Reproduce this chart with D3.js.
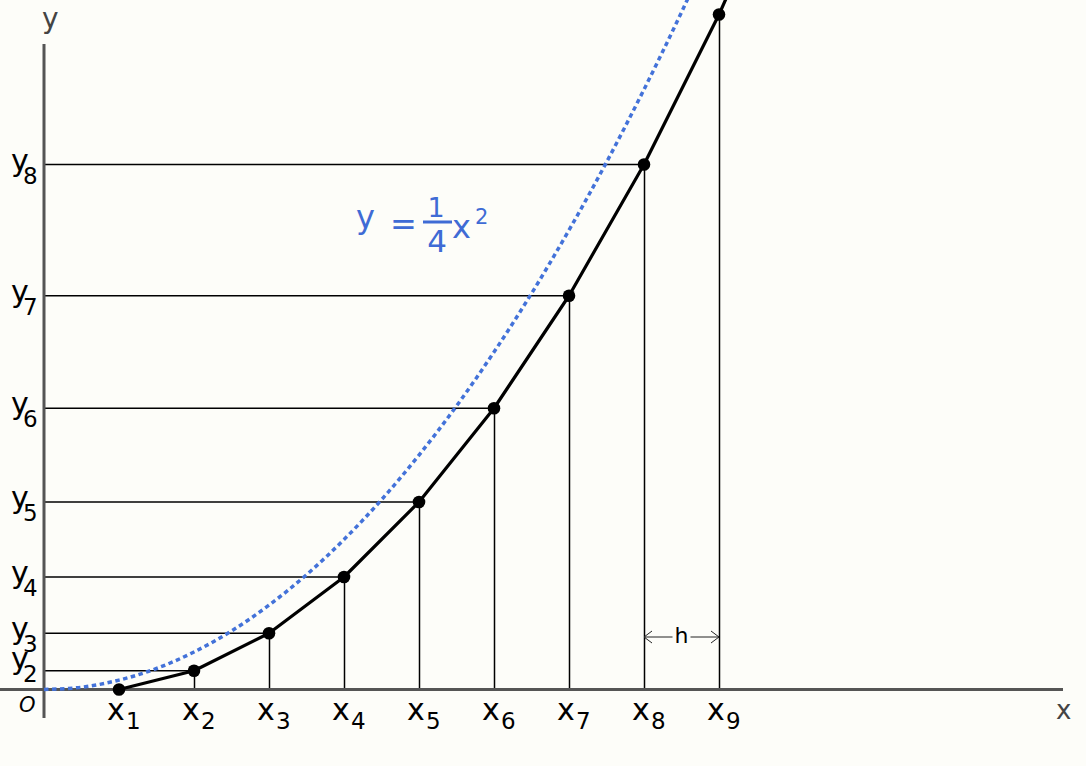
<html>
<head>
  <style>
  body {
    margin: 0;
    background: #fdfdf9;
  }
  svg text {
    font-family: "DejaVu Sans", Verdana, sans-serif;
  }
  .guide {
    stroke: #000;
    stroke-width: 1.5px;
  }
  .axis-line {
    stroke: #555;
    stroke-width: 3px;
  }
  </style>
</head>
<body>
<div id="chart"></div>
<script src="https://cdnjs.cloudflare.com/ajax/libs/d3/7.8.5/d3.min.js"></script>
<script>

// Euler steps: x_n and y_n (units of h)
var nodeX = [1, 2, 3, 4, 5, 6, 7, 8, 9];
var nodeY = [0, 0.5, 1.5, 3, 5, 7.5, 10.5, 14, 18];
// next step, off the top of the picture
var tailX = 10, tailY = 22.5;

// dashed curve y = x^2/4
var curveX = [0, 0.5, 1, 1.5, 2, 2.5, 3, 3.5, 4, 4.5, 5, 5.5, 6, 6.5, 7, 7.5, 8, 8.5, 9];
var curveY = [0, 0.06, 0.25, 0.56, 1, 1.56, 2.25, 3.06, 4, 5.06, 6.25, 7.56, 9, 10.56, 12.25, 14.06, 16, 18.06, 20.25];

// which y_n get a label and a horizontal guide
var yLabelIdx = [2, 3, 4, 5, 6, 7, 8];

var width = 1086, height = 766;

var svg = d3.select("#chart")
  .append("svg")
    .attr("width", width)
    .attr("height", height);

// 75px per h along x, 37.5px per unit along y
var x = d3.scaleLinear().domain([0, 1]).range([44, 119]);
var y = d3.scaleLinear().domain([0, 1]).range([689.5, 652]);

// guides
nodeX.forEach(function(d, i) {
  if (i === 0) return;
  svg.append("line").attr("class", "guide")
    .attr("x1", x(d) + 0.5).attr("x2", x(d) + 0.5)
    .attr("y1", y(nodeY[i])).attr("y2", y(0));
});
yLabelIdx.forEach(function(n) {
  svg.append("line").attr("class", "guide")
    .attr("x1", x(0)).attr("x2", x(nodeX[n - 1]))
    .attr("y1", y(nodeY[n - 1])).attr("y2", y(nodeY[n - 1]));
});

// axes
svg.append("line").attr("class", "axis-line")
  .attr("x1", 0).attr("x2", 1063)
  .attr("y1", y(0)).attr("y2", y(0));
svg.append("line").attr("class", "axis-line")
  .attr("x1", x(0)).attr("x2", x(0))
  .attr("y1", 44).attr("y2", 718);

// dashed parabola
var curvePts = curveX.map(function(d, i) { return [d, curveY[i]]; });
svg.append("path")
  .datum(curvePts)
  .attr("fill", "none")
  .attr("stroke", "#4372d9")
  .attr("stroke-width", 3.5)
  .attr("stroke-dasharray", "4.5,3.5")
  .attr("d", d3.line()
    .x(function(d) { return x(d[0]); })
    .y(function(d) { return y(d[1]); })
    .curve(d3.curveMonotoneX));

// euler polyline
var polyPts = nodeX.map(function(d, i) { return [d, nodeY[i]]; });
polyPts.push([tailX, tailY]);
svg.append("path")
  .datum(polyPts)
  .attr("fill", "none")
  .attr("stroke", "#000")
  .attr("stroke-width", 3.2)
  .attr("stroke-linejoin", "round")
  .attr("d", d3.line()
    .x(function(d) { return x(d[0]); })
    .y(function(d) { return y(d[1]); }));

svg.selectAll(".node")
  .data(polyPts.slice(0, nodeX.length))
  .enter()
  .append("circle")
    .attr("class", "node")
    .attr("cx", function(d) { return x(d[0]); })
    .attr("cy", function(d) { return y(d[1]); })
    .attr("r", 6.3)
    .attr("fill", "#000");

// x_n labels
nodeX.forEach(function(d, i) {
  var t = svg.append("text")
    .attr("x", x(d) - 12).attr("y", 720)
    .style("font-size", "30px");
  t.append("tspan").text("x");
  t.append("tspan")
    .attr("x", x(d) + 7).attr("dy", 9)
    .style("font-size", "23px")
    .text(i + 1);
});

// y_n labels
yLabelIdx.forEach(function(n) {
  var ly = y(nodeY[n - 1]);
  var shift = Math.min(0, 682 - (ly + 19));
  var t = svg.append("text")
    .attr("x", 11).attr("y", ly + 6 + shift)
    .style("font-size", "30px");
  t.append("tspan").text("y");
  t.append("tspan")
    .attr("x", 23).attr("dy", 13)
    .style("font-size", "23px")
    .text(n);
});

// axis names and origin
svg.append("text")
  .attr("x", 42).attr("y", 28)
  .style("font-size", "28px").style("fill", "#444")
  .text("y");
svg.append("text")
  .attr("x", 1056).attr("y", 719)
  .style("font-size", "26px").style("fill", "#444")
  .text("x");
svg.append("text")
  .attr("x", 19).attr("y", 712)
  .style("font-size", "21px").style("font-style", "italic")
  .text("O");

// step width h between x_8 and x_9
var hy = 637, hx1 = x(nodeX[7]), hx2 = x(nodeX[8]), hm = (hx1 + hx2) / 2;
var arrow = svg.append("g")
  .attr("fill", "none")
  .attr("stroke", "#222")
  .attr("stroke-width", 1);
arrow.append("line").attr("x1", hx1).attr("x2", hm - 9).attr("y1", hy).attr("y2", hy);
arrow.append("line").attr("x1", hm + 9).attr("x2", hx2).attr("y1", hy).attr("y2", hy);
arrow.append("path").attr("d", "M" + (hx1 + 8) + "," + (hy - 6) + "L" + hx1 + "," + hy + "L" + (hx1 + 8) + "," + (hy + 6));
arrow.append("path").attr("d", "M" + (hx2 - 8) + "," + (hy - 6) + "L" + hx2 + "," + hy + "L" + (hx2 - 8) + "," + (hy + 6));
svg.append("text")
  .attr("x", hm).attr("y", 643)
  .attr("text-anchor", "middle")
  .style("font-size", "22px")
  .text("h");

// equation label
var eq = svg.append("g").style("fill", "#3f6bd5");
eq.append("text").attr("x", 356).attr("y", 228).style("font-size", "32px").text("y");
eq.append("text").attr("x", 390).attr("y", 235).style("font-size", "32px").text("=");
eq.append("line")
  .attr("x1", 423).attr("x2", 452).attr("y1", 222).attr("y2", 222)
  .attr("stroke", "#3f6bd5").attr("stroke-width", 3);
eq.append("text").attr("x", 436).attr("y", 217).attr("text-anchor", "middle").style("font-size", "27px").text("1");
eq.append("text").attr("x", 437).attr("y", 252).attr("text-anchor", "middle").style("font-size", "31px").text("4");
eq.append("text").attr("x", 452).attr("y", 238).style("font-size", "32px").text("x");
eq.append("text").attr("x", 475).attr("y", 224).style("font-size", "21px").text("2");

</script>
</body>
</html>
